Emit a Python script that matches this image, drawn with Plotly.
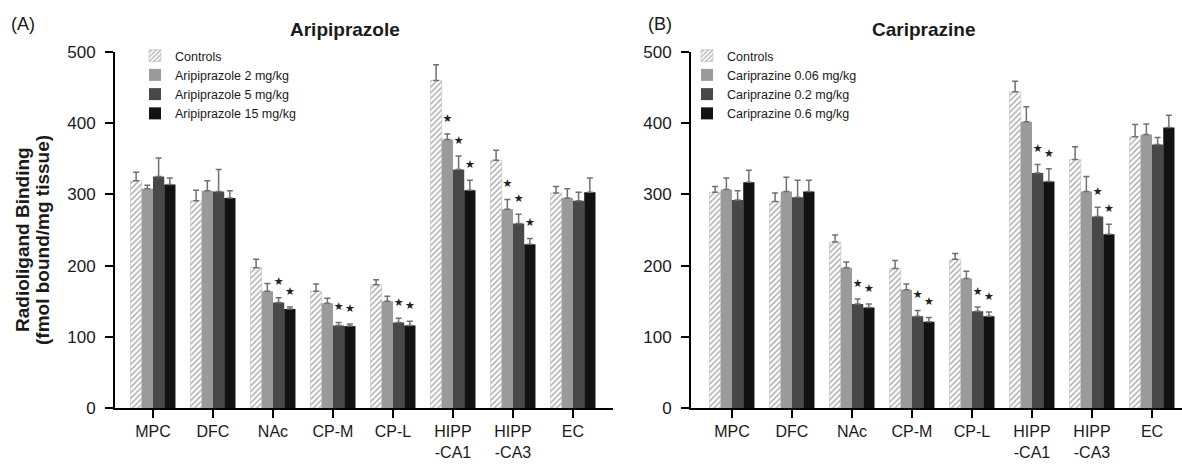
import numpy as np
import plotly.graph_objects as go

regions = ["MPC", "DFC", "NAc", "CP-M", "CP-L", "HIPP<br>-CA1", "HIPP<br>-CA3", "EC"]
y_ticks = [0, 100, 200, 300, 400, 500]

# Aripiprazole panel (A)
ari_names = ["Controls", "Aripiprazole 2 mg/kg", "Aripiprazole 5 mg/kg", "Aripiprazole 15 mg/kg"]
ari_ctrl = [319, 291, 197, 164, 173, 460, 348, 302]
ari_ctrl_err = [12, 15, 12, 10, 7, 22, 14, 9]
ari_2 = [308, 305, 164, 147, 150, 377, 279, 295]
ari_2_err = [5, 14, 11, 7, 7, 8, 14, 13]
ari_5 = [325, 304, 148, 116, 120, 335, 259, 291]
ari_5_err = [26, 31, 7, 4, 6, 19, 13, 12]
ari_15 = [314, 295, 139, 115, 116, 306, 230, 303]
ari_15_err = [9, 10, 3, 3, 6, 14, 8, 20]
ari_ctrl_sig = [0, 0, 0, 0, 0, 0, 0, 0]
ari_2_sig = [0, 0, 0, 0, 0, 1, 1, 0]
ari_5_sig = [0, 0, 1, 1, 1, 1, 1, 0]
ari_15_sig = [0, 0, 1, 1, 1, 1, 1, 0]

# Cariprazine panel (B)
car_names = ["Controls", "Cariprazine 0.06 mg/kg", "Cariprazine 0.2 mg/kg", "Cariprazine 0.6 mg/kg"]
car_ctrl = [303, 290, 233, 196, 209, 444, 349, 381]
car_ctrl_err = [8, 12, 10, 11, 8, 15, 18, 17]
car_006 = [307, 304, 197, 166, 182, 402, 304, 384]
car_006_err = [16, 20, 8, 8, 10, 21, 21, 15]
car_02 = [292, 296, 146, 129, 136, 330, 269, 370]
car_02_err = [13, 24, 7, 8, 6, 12, 13, 10]
car_06 = [317, 304, 141, 121, 129, 318, 244, 394]
car_06_err = [17, 16, 5, 6, 6, 18, 14, 17]
car_ctrl_sig = [0, 0, 0, 0, 0, 0, 0, 0]
car_006_sig = [0, 0, 0, 0, 0, 0, 0, 0]
car_02_sig = [0, 0, 1, 1, 1, 1, 1, 0]
car_06_sig = [0, 0, 1, 1, 1, 1, 1, 0]

FONT = "Liberation Sans, Arial, sans-serif"
colors = ["white", "#9a9a9a", "#484848", "#121212"]
BW = 0.1875

fig = go.Figure()

W, H = 1182, 464
ML, MR, MT, MB = 115, 0, 52, 56
PW, PH = W - ML - MR, H - MT - MB


def px_x(p):
    return (p - ML) / PW


def px_y(p):
    return (H - MB - p) / PH


panels = [
    ("x", "y", "legend", ari_names,
     [ari_ctrl, ari_2, ari_5, ari_15],
     [ari_ctrl_err, ari_2_err, ari_5_err, ari_15_err],
     [ari_ctrl_sig, ari_2_sig, ari_5_sig, ari_15_sig]),
    ("x2", "y2", "legend2", car_names,
     [car_ctrl, car_006, car_02, car_06],
     [car_ctrl_err, car_006_err, car_02_err, car_06_err],
     [car_ctrl_sig, car_006_sig, car_02_sig, car_06_sig]),
]

idx = np.arange(len(regions))
for xa, ya, lg, names, vals, errs, sigs in panels:
    for k in range(4):
        xs = idx + (k - 1.5) * BW
        marker = dict(color=colors[k], line=dict(width=0))
        if k == 0:
            marker = dict(color="white",
                          line=dict(width=0.6, color="#c0c0c0"),
                          pattern=dict(shape="/", fgcolor="#a6a6a6", bgcolor="white",
                                       size=4, solidity=0.35, fillmode="replace"))
        fig.add_trace(go.Bar(
            x=xs, y=vals[k], width=BW, name=names[k], marker=marker,
            xaxis=xa, yaxis=ya, legend=lg,
            error_y=dict(type="data", symmetric=False, array=errs[k],
                         arrayminus=[0] * len(regions), color="#707070",
                         thickness=1.5, width=3),
        ))
        sx = [x for x, s in zip(xs, sigs[k]) if s]
        sy = [v + e + 21 for v, e, s in zip(vals[k], errs[k], sigs[k]) if s]
        if sx:
            fig.add_trace(go.Scatter(
                x=sx, y=sy, mode="text", text=["★"] * len(sx),
                textfont=dict(size=11, color="#222222", family="DejaVu Sans"),
                xaxis=xa, yaxis=ya, showlegend=False, hoverinfo="skip",
            ))

xaxis_common = dict(
    tickvals=list(idx), ticktext=regions, showline=True, linecolor="black",
    linewidth=2, ticks="outside", ticklen=8, tickwidth=2, tickcolor="black",
    showgrid=False, zeroline=False,
    tickfont=dict(size=16, color="#1a1a1a", family=FONT),
)
yaxis_common = dict(
    range=[0, 500], tickvals=y_ticks, showline=True, linecolor="black",
    linewidth=2, ticks="outside", ticklen=8, tickwidth=2, tickcolor="black",
    showgrid=False, zeroline=False, ticklabelstandoff=6,
    tickfont=dict(size=17, color="#1a1a1a", family=FONT),
)

fig.update_layout(
    width=W, height=H,
    margin=dict(l=ML, r=MR, t=MT, b=MB),
    plot_bgcolor="white", paper_bgcolor="white",
    barmode="overlay",
    font=dict(family=FONT, color="#1a1a1a"),
    xaxis=dict(domain=[0, px_x(613)], range=[-0.633, 7.667], anchor="y", **xaxis_common),
    yaxis=dict(domain=[0, 1], anchor="x", **yaxis_common),
    xaxis2=dict(domain=[px_x(691), 1], range=[-0.683, 7.5], anchor="y2", **xaxis_common),
    yaxis2=dict(domain=[0, 1], anchor="x2", **yaxis_common),
    legend=dict(x=px_x(135), y=px_y(41), xanchor="left", yanchor="top",
                font=dict(size=12.5, family=FONT, color="#1a1a1a"),
                bgcolor="rgba(0,0,0,0)", tracegroupgap=0),
    legend2=dict(x=px_x(687), y=px_y(41), xanchor="left", yanchor="top",
                 font=dict(size=12.5, family=FONT, color="#1a1a1a"),
                 bgcolor="rgba(0,0,0,0)", tracegroupgap=0),
    showlegend=True,
)

ann = [
    dict(text="(A)", x=px_x(23), y=px_y(24), size=18),
    dict(text="(B)", x=px_x(660), y=px_y(23.5), size=18),
    dict(text="<b>Aripiprazole</b>", x=px_x(345), y=px_y(30), size=19),
    dict(text="<b>Cariprazine</b>", x=px_x(923), y=px_y(30), size=19),
]
for a in ann:
    fig.add_annotation(text=a["text"], x=a["x"], y=a["y"], xref="paper", yref="paper",
                       xanchor="center", yanchor="middle", showarrow=False,
                       font=dict(size=a["size"], family=FONT, color="#1a1a1a"))

fig.add_annotation(text="<b>Radioligand Binding</b>", x=px_x(23), y=px_y(240),
                   xref="paper", yref="paper", textangle=-90, showarrow=False,
                   xanchor="center", yanchor="middle",
                   font=dict(size=19, family=FONT, color="#1a1a1a"))
fig.add_annotation(text="<b>(fmol bound/mg tissue)</b>", x=px_x(43), y=px_y(240),
                   xref="paper", yref="paper", textangle=-90, showarrow=False,
                   xanchor="center", yanchor="middle",
                   font=dict(size=19, family=FONT, color="#1a1a1a"))

fig.write_html("out.html", config={"displayModeBar": False},
               post_script="document.body.style.margin='0px';document.body.style.overflow='hidden';")
